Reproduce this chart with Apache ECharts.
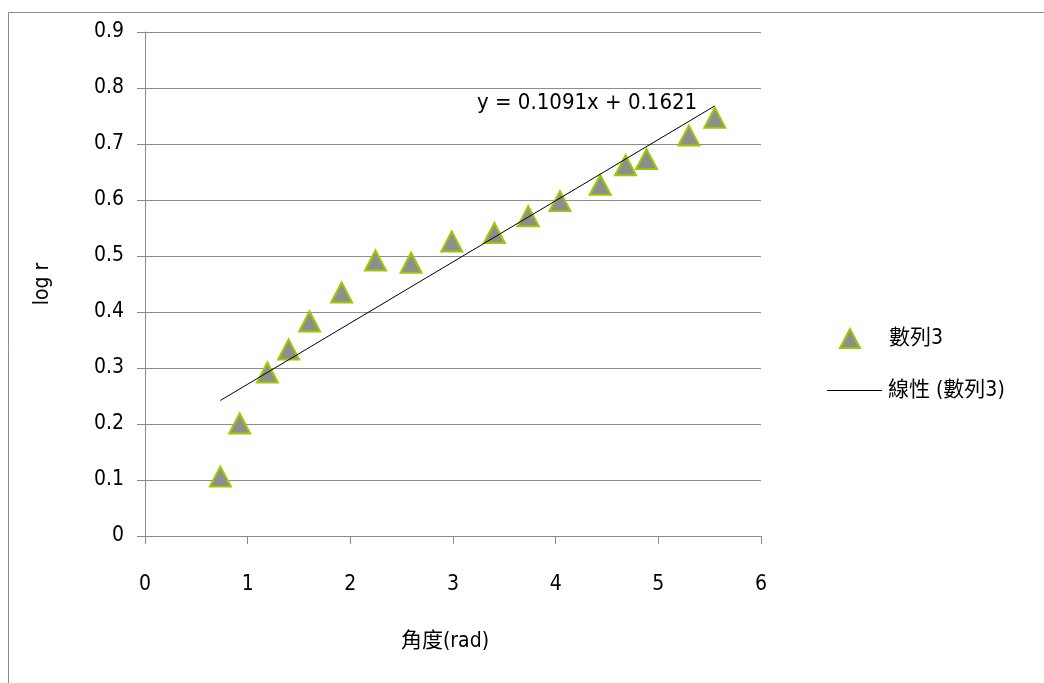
<!DOCTYPE html>
<html><head><meta charset="utf-8">
<script src="https://cdn.jsdelivr.net/npm/echarts@6/dist/echarts.min.js"></script>
<style>html,body{margin:0;padding:0;background:#fff}#c{width:1044px;height:683px}</style>
</head><body><div id="c"></div>
<script>
const xValues = [0.734, 0.922, 1.192, 1.399, 1.603, 1.915, 2.245, 2.592, 2.988, 3.403, 3.733, 4.042, 4.434, 4.681, 4.885, 5.297, 5.55];
const yValues = [0.106, 0.201, 0.292, 0.333, 0.383, 0.435, 0.492, 0.488, 0.526, 0.541, 0.571, 0.598, 0.627, 0.662, 0.673, 0.715, 0.747];
const trendX = [0.734, 5.55];
const trendY = [0.242, 0.768];
const seriesName = '數列3';
const trendName = '線性 (數列3)';
const equationText = 'y = 0.1091x + 0.1621';
const xTitle = '角度(rad)';
const yTitle = 'log r';

const FONT = "'DejaVu Sans Condensed','Noto Sans CJK TC',sans-serif";
const FS = 21;
const chart = echarts.init(document.getElementById('c'), null, {renderer: 'canvas'});
chart.setOption({
  animation: false,
  backgroundColor: '#fff',
  textStyle: {fontFamily: FONT},
  grid: {left: 145, right: 283, top: 32, bottom: 147},
  graphic: [
    {type: 'rect', shape: {x: 8.5, y: 12.5, width: 1100, height: 800}, style: {fill: 'none', stroke: '#8a8a8a', lineWidth: 1}, silent: true, z: -10},
    {type: 'text', left: 477, top: 92, style: {text: equationText, font: "22px " + FONT, fill: '#000'}}
  ],
  xAxis: {
    type: 'value', min: 0, max: 6, interval: 1,
    name: xTitle, nameLocation: 'middle', nameGap: 95,
    nameTextStyle: {fontSize: FS, color: '#000', fontFamily: FONT, padding: [0, 16, 0, 0]},
    axisLine: {show: true, onZero: false, lineStyle: {color: '#8c8c8c', width: 1}},
    axisTick: {show: true, inside: false, length: 8, lineStyle: {color: '#8c8c8c'}},
    axisLabel: {fontSize: FS, color: '#000', margin: 38, fontFamily: FONT},
    splitLine: {show: false}
  },
  yAxis: {
    type: 'value', min: 0, max: 0.9, interval: 0.1,
    name: yTitle, nameLocation: 'middle', nameGap: 92, nameRotate: 90,
    nameTextStyle: {fontSize: FS, color: '#000', fontFamily: FONT},
    axisLine: {show: true, onZero: false, lineStyle: {color: '#8c8c8c', width: 1}},
    axisTick: {show: true, inside: false, length: 8, lineStyle: {color: '#8c8c8c'}},
    axisLabel: {fontSize: FS, color: '#000', margin: 21, fontFamily: FONT, formatter: v => String(Math.round(v * 10) / 10)},
    splitLine: {show: true, lineStyle: {color: '#8c8c8c', width: 1}}
  },
  legend: [
    {data: [{name: seriesName, icon: 'triangle'}], left: 834, top: 323, orient: 'vertical', itemWidth: 20, itemHeight: 19,
     itemStyle: {color: '#8e8e8e', borderColor: '#99cc00', borderWidth: 2},
     textStyle: {fontSize: FS, color: '#000', fontFamily: FONT, padding: [0, 0, 0, 24]}},
    {data: [{name: trendName, icon: 'rect'}], left: 822, top: 375, orient: 'vertical', itemWidth: 55, itemHeight: 1,
     itemStyle: {color: '#000', borderWidth: 0},
     textStyle: {fontSize: FS, color: '#000', fontFamily: FONT, padding: [0, 0, 0, 1]}}
  ],
  series: [
    {
      name: trendName, type: 'line', data: trendX.map((x, i) => [x, trendY[i]]),
      symbol: 'none', showSymbol: false, lineStyle: {color: '#000', width: 1}, itemStyle: {color: '#000'}, z: 3
    },
    {
      name: seriesName, type: 'scatter', data: xValues.map((x, i) => [x, yValues[i]]),
      symbol: 'triangle', symbolSize: [21, 20],
      itemStyle: {color: '#8e8e8e', borderColor: '#99cc00', borderWidth: 2, opacity: 1}, z: 2
    }
  ]
});
</script></body></html>
